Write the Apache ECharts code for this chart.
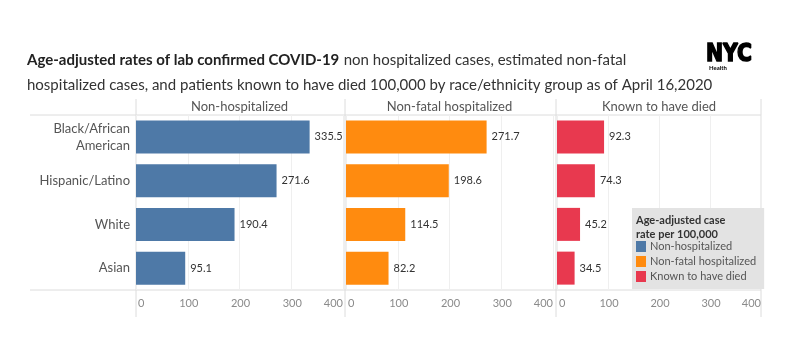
<!DOCTYPE html>
<html>
<head>
<meta charset="utf-8">
<script src="https://cdn.jsdelivr.net/npm/echarts@6/dist/echarts.min.js"></script>
<style>
  html, body { margin: 0; padding: 0; background: #fff; }
  #chart { width: 800px; height: 345px; }
</style>
</head>
<body>
<div id="chart"></div>
<script>
// categories (top to bottom)
var groups = ["Black/African\nAmerican", "Hispanic/Latino", "White", "Asian"];
var panels = ["Non-hospitalized", "Non-fatal hospitalized", "Known to have died"];
var nonHosp = [335.5, 271.6, 190.4, 95.1];
var nonFatalHosp = [271.7, 198.6, 114.5, 82.2];
var died = [92.3, 74.3, 45.2, 34.5];
var colors = ["#4e79a7", "#ff8b0f", "#e8394f"];
var xTicks = [0, 100, 200, 300, 400];

var font = "Lato";
// panel x positions
var panelLeft = [136, 346, 557];
var panelWidth = [207, 207, 204];

var chart = echarts.init(document.getElementById("chart"));

var grids = [], xAxes = [], yAxes = [], series = [];
var seriesData = [nonHosp, nonFatalHosp, died];
for (var i = 0; i < 3; i++) {
  grids.push({ left: panelLeft[i], width: panelWidth[i], top: 115, height: 175 });
  xAxes.push({
    gridIndex: i, type: "value",
    min: xTicks[0], max: xTicks[xTicks.length - 1], interval: 100,
    axisLine: { show: false }, axisTick: { show: false },
    axisLabel: { color: "#8a8a8a", fontSize: 11, fontFamily: font, margin: 8,
      alignMinLabel: "left", alignMaxLabel: "right", padding: [0, 0, 0, 2] },
    splitLine: { lineStyle: { color: "#efefef" } }
  });
  yAxes.push({
    gridIndex: i, type: "category", data: groups, inverse: true,
    axisLine: { show: false }, axisTick: { show: false },
    axisLabel: { show: i === 0, color: "#555", fontSize: 13, fontFamily: font, margin: 6, lineHeight: 17 }
  });
  series.push({
    name: panels[i], type: "bar", xAxisIndex: i, yAxisIndex: i,
    data: seriesData[i], barWidth: 33,
    itemStyle: { color: colors[i] },
    label: { show: true, position: "right", distance: 5, color: "#333", fontSize: 11, fontFamily: font }
  });
}

// separators
var lines = [
  { type: "line", shape: { x1: 30, y1: 115, x2: 761, y2: 115 }, style: { stroke: "#dcdcdc", lineWidth: 1 } },
  { type: "line", shape: { x1: 30, y1: 290, x2: 761, y2: 290 }, style: { stroke: "#dcdcdc", lineWidth: 1 } }
];
[136, 345, 556, 761].forEach(function (x) {
  lines.push({ type: "line", shape: { x1: x, y1: 99, x2: x, y2: 317 }, style: { stroke: "#dcdcdc", lineWidth: 1 } });
});
var headers = panels.map(function (p, i) {
  return { type: "text", x: panelLeft[i] + panelWidth[i] / 2, y: 107,
    style: { text: p, fill: "#555", font: "13px " + font, textAlign: "center", textVerticalAlign: "middle" } };
});

var option = {
  animation: false,
  textStyle: { fontFamily: font },
  title: {
    left: 22, top: 43,
    text: "{b|Age-adjusted rates of lab confirmed COVID-19} {n|non hospitalized cases, estimated non-fatal}\n{n|hospitalized cases, and patients known to have died 100,000 by race/ethnicity group as of April 16,2020}",
    textStyle: {
      rich: {
        b: { fontSize: 15, fontWeight: "bold", color: "#222", fontFamily: font, lineHeight: 25 },
        n: { fontSize: 15, fontWeight: "normal", color: "#333", fontFamily: font, lineHeight: 25 }
      }
    }
  },
  grid: grids,
  xAxis: xAxes,
  yAxis: yAxes,
  legend: {
    orient: "vertical", left: 632, top: 208,
    data: panels,
    backgroundColor: "#e3e3e3",
    padding: [33, 8, 7, 4],
    itemWidth: 10, itemHeight: 11, itemGap: 4,
    icon: "rect",
    textStyle: { color: "#555", fontSize: 11, fontFamily: font, padding: [0, 0, 0, -1] }
  },
  graphic: lines.concat(headers).concat([
    { type: "text", x: 636, y: 213, z: 100,
      style: { text: "Age-adjusted case\nrate per 100,000", fill: "#333", font: "bold 11px " + font, lineHeight: 14 } },
    // NYC Health logo
    { type: "text", x: 706, y: 43, scaleX: 0.85,
      style: { text: "NYC", fill: "#000", stroke: "#000", lineWidth: 1.6, font: "bold 24px 'DejaVu Sans'" } },
    { type: "text", x: 709, y: 65,
      style: { text: "Health", fill: "#000", font: "bold 6px " + font } }
  ]),
  series: series
};
chart.setOption(option);
</script>
</body>
</html>
